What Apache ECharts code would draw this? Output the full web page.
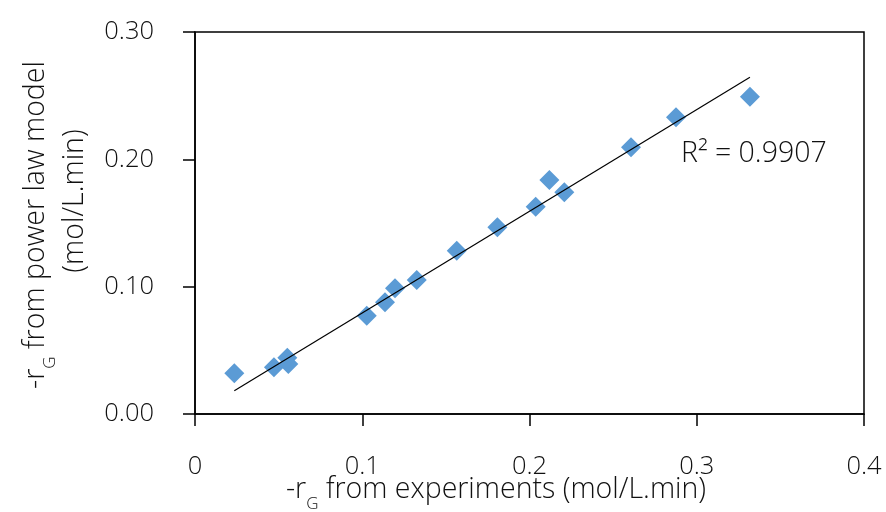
<!DOCTYPE html>
<html>
<head>
<meta charset="utf-8">
<script src="https://cdn.jsdelivr.net/npm/echarts@6/dist/echarts.min.js"></script>
<style>
  html, body { margin: 0; padding: 0; background: #fff; }
  #chart { width: 886px; height: 512px; }
</style>
</head>
<body>
<div id="chart"></div>
<script>
// Measured rate (x) vs. rate predicted by the power law model (y), mol/L.min
const rateExperiment = [0.0235, 0.0472, 0.0552, 0.0558, 0.1027, 0.1136, 0.1196, 0.1326,
                        0.1565, 0.1808, 0.2037, 0.2119, 0.2208, 0.2607, 0.2876, 0.3318];
const rateModel      = [0.0320, 0.0367, 0.0442, 0.0393, 0.0772, 0.0877, 0.0987, 0.1052,
                        0.1283, 0.1466, 0.1628, 0.1838, 0.1741, 0.2094, 0.2330, 0.2492];

// Linear trendline endpoints (x, y)
const trendStart = [0.0235, 0.0183];
const trendEnd   = [0.3318, 0.2644];
const rSquaredText = 'R² = 0.9907';

// Axis ranges
const xTicks = [0, 0.1, 0.2, 0.3, 0.4];
const yTicks = [0, 0.1, 0.2, 0.3];

const FONT = 'Open Sans';
const WEIGHT = 300;
const TEXT_COLOR = '#111';
const TITLE_SIZE = 28.5;
const points = rateExperiment.map((x, i) => [x, rateModel[i]]);

const titleRich = {
  t: { fontFamily: FONT, fontWeight: WEIGHT, fontSize: TITLE_SIZE, fill: TEXT_COLOR, lineHeight: 32 },
  s: { fontFamily: FONT, fontWeight: WEIGHT, fontSize: 17, fill: TEXT_COLOR, lineHeight: 17, padding: [28, 0, 0, 0] }
};

const chart = echarts.init(document.getElementById('chart'));
chart.setOption({
  animation: false,
  backgroundColor: '#fff',
  grid: {
    left: 195, right: 22, top: 32, bottom: 98,
    show: true, borderColor: '#000', borderWidth: 1.5, backgroundColor: 'transparent'
  },
  xAxis: {
    type: 'value',
    min: xTicks[0], max: xTicks[xTicks.length - 1], interval: 0.1,
    axisLine: { show: true, lineStyle: { color: '#000', width: 1.5 } },
    axisTick: { show: true, inside: false, length: 12, lineStyle: { color: '#000', width: 1.5 } },
    splitLine: { show: false },
    axisLabel: {
      margin: 40, color: TEXT_COLOR, fontFamily: FONT, fontWeight: WEIGHT, fontSize: 25.5,
      formatter: v => (v === 0 ? '0' : v.toFixed(1))
    }
  },
  yAxis: {
    type: 'value',
    min: yTicks[0], max: yTicks[yTicks.length - 1], interval: 0.1,
    axisLine: { show: true, lineStyle: { color: '#000', width: 1.5 } },
    axisTick: { show: true, inside: false, length: 12, lineStyle: { color: '#000', width: 1.5 } },
    splitLine: { show: false },
    axisLabel: {
      margin: 41, color: TEXT_COLOR, fontFamily: FONT, fontWeight: WEIGHT, fontSize: 25.5,
      padding: [0, 0, 7, 0],
      formatter: v => v.toFixed(2)
    }
  },
  series: [
    {
      type: 'scatter',
      data: points,
      symbol: 'diamond',
      symbolSize: 20,
      itemStyle: { color: '#5b9bd5', opacity: 1 },
      z: 3
    },
    {
      type: 'line',
      data: [trendStart, trendEnd],
      showSymbol: false,
      symbol: 'none',
      lineStyle: { color: '#000', width: 1.2 },
      z: 4
    }
  ],
  graphic: [
    {
      type: 'text', left: 681, top: 139,
      style: { text: rSquaredText, fill: TEXT_COLOR, font: WEIGHT + ' ' + TITLE_SIZE + 'px "' + FONT + '"' }
    },
    {
      type: 'text', x: 496, y: 490,
      style: {
        text: '{t|-r}{s|G}{t| from experiments (mol/L.min)}',
        align: 'center', verticalAlign: 'middle',
        rich: titleRich
      }
    },
    {
      type: 'text', x: 36, y: 225, rotation: Math.PI / 2,
      style: {
        text: '{t|-r}{s|G}{t| from power law model}',
        align: 'center', verticalAlign: 'middle',
        rich: titleRich
      }
    },
    {
      type: 'text', x: 75, y: 201, rotation: Math.PI / 2,
      style: {
        text: '(mol/L.min)', align: 'center', verticalAlign: 'middle',
        fill: TEXT_COLOR, font: WEIGHT + ' ' + TITLE_SIZE + 'px "' + FONT + '"'
      }
    }
  ]
});
</script>
</body>
</html>
